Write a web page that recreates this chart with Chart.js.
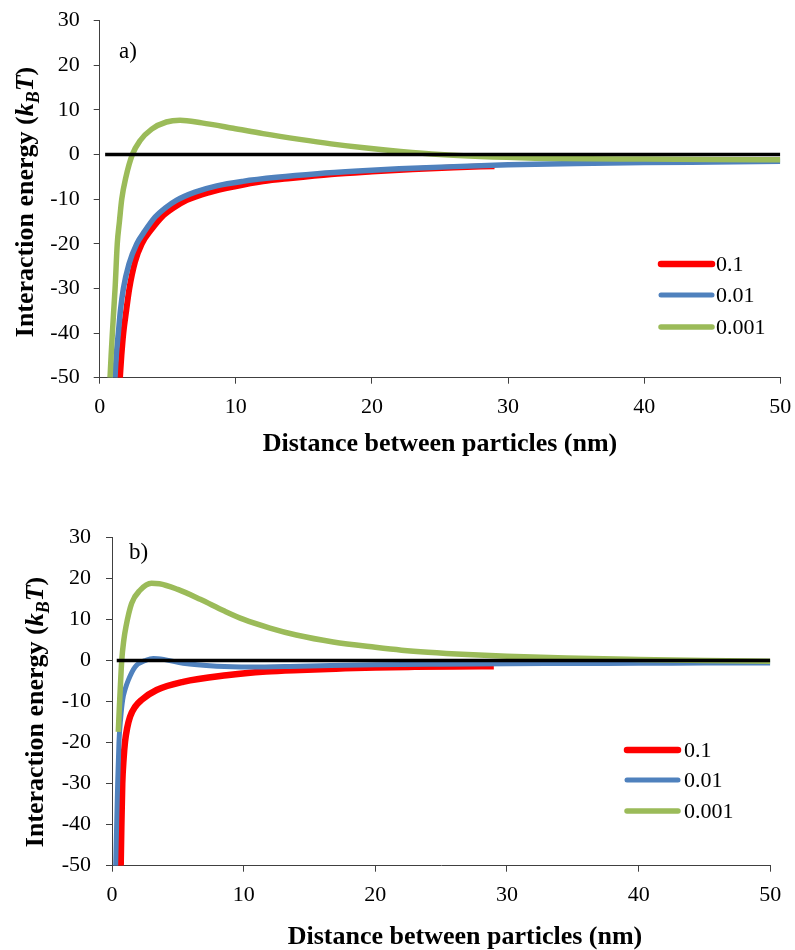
<!DOCTYPE html>
<html>
<head>
<meta charset="utf-8">
<script src="https://cdn.jsdelivr.net/npm/chart.js@4.4.1/dist/chart.umd.min.js"></script>
<style>
  html, body { margin: 0; padding: 0; background: #fff; }
  .panel { position: absolute; left: 0; width: 795px; }
  #panelA { top: 0; height: 470px; }
  #panelB { top: 470px; height: 480px; }
</style>
</head>
<body>
<div class="panel" id="panelA"><canvas id="chartA" width="795" height="470"></canvas></div>
<div class="panel" id="panelB"><canvas id="chartB" width="795" height="480"></canvas></div>
<script>
// --- DATA ---
const seriesLabels = ['0.1', '0.01', '0.001'];
const xTicks = [0, 10, 20, 30, 40, 50];
const yTicks = [-50, -40, -30, -20, -10, 0, 10, 20, 30];

// panel a)
const distA1 = [1.49, 1.6, 1.74, 1.95, 2.18, 2.6, 3.09, 3.8, 4.56, 5.4, 6.4, 8.0, 10, 12, 14, 17, 20, 23, 26, 29];
const energyA1 = [-50, -45, -40, -35, -30, -24, -20, -16.8, -14, -12, -10.2, -8.5, -7.1, -6.0, -5.3, -4.4, -3.8, -3.3, -2.9, -2.6];

const distA2 = [1.12, 1.22, 1.37, 1.52, 1.74, 2.15, 2.72, 3.3, 4.07, 4.8, 5.66, 7, 8.6, 10.5, 13, 16, 19, 22, 26, 30, 35, 40, 45, 50];
const energyA2 = [-50, -45, -40, -35, -30, -24.5, -20, -17.2, -14, -12, -10.2, -8.4, -7.0, -6.0, -5.1, -4.3, -3.7, -3.2, -2.7, -2.3, -2.0, -1.8, -1.65, -1.5];

const distA3 = [0.76, 0.84, 0.93, 1.03, 1.13, 1.29, 1.45, 1.62, 1.93, 2.4, 2.96, 3.82, 4.9, 5.9, 7.5, 9.8, 12, 14.7, 17, 19.6, 22.1, 25, 28, 32, 36, 40, 45, 50];
const energyA3 = [-50, -45, -40, -35, -30, -20, -15, -10, -5, 0, 3.1, 5.7, 7.3, 7.7, 7.1, 5.9, 4.7, 3.4, 2.4, 1.45, 0.7, 0.0, -0.45, -0.8, -0.95, -1.0, -1.1, -1.15];

const zeroDistA = [0.4, 50];

// panel b)
const distB1 = [0.66, 0.71, 0.78, 0.88, 0.99, 1.15, 1.37, 1.75, 2.25, 3.39, 5.4, 8.7, 11.7, 14.3, 17, 20, 23, 26, 29];
const energyB1 = [-50, -40.5, -30, -24, -19.8, -16.5, -13.7, -11.3, -9.6, -7.2, -5.2, -3.6, -2.7, -2.3, -2.0, -1.7, -1.55, -1.45, -1.4];

const distB2 = [0.28, 0.35, 0.43, 0.53, 0.66, 0.81, 1.0, 1.24, 1.75, 2.63, 3.14, 4.0, 5.4, 7.95, 10.5, 14.3, 20, 25, 30, 35, 40, 45, 50];
const energyB2 = [-50, -40.5, -30, -19.8, -14, -9.6, -7, -4.8, -1.6, 0.1, 0.5, 0.2, -0.7, -1.4, -1.6, -1.4, -1.05, -0.9, -0.8, -0.75, -0.7, -0.65, -0.6];

const distB3 = [0.48, 0.55, 0.61, 0.74, 0.9, 1.06, 1.49, 2.13, 3.0, 3.6, 5, 6.7, 8.5, 10, 12, 14, 16.8, 20, 22, 24, 27, 30, 34.5, 40, 45, 50];
const energyB3 = [-17.4, -12, -8.0, 0, 5, 8.2, 13.9, 17.1, 18.8, 18.7, 17.3, 14.9, 12.1, 10.0, 7.9, 6.2, 4.5, 3.2, 2.5, 2.0, 1.45, 1.05, 0.6, 0.25, 0.0, -0.2];

const zeroDistB = [0.36, 50];

const serif = "'Liberation Serif', 'Times New Roman', serif";
const xTitle = 'Distance between particles (nm)';

function toPoints(xs, ys) {
    return xs.map((x, i) => ({ x: x, y: ys[i] }));
}

// --- DRAWING HELPERS ---
// y title with italic k_B T
function drawYTitle(ctx, x, y, size) {
    const parts = [
        { t: 'Interaction energy (', f: `bold ${size}px ${serif}` },
        { t: 'k', f: `italic bold ${size}px ${serif}` },
        { t: 'B', f: `italic bold ${Math.round(size * 0.68)}px ${serif}`, dy: size * 0.24 },
        { t: 'T', f: `italic bold ${size}px ${serif}` },
        { t: ')', f: `bold ${size}px ${serif}` }
    ];
    ctx.save();
    ctx.translate(x, y);
    ctx.rotate(-Math.PI / 2);
    ctx.textAlign = 'left';
    ctx.textBaseline = 'alphabetic';
    let total = 0;
    parts.forEach(p => { ctx.font = p.f; p.w = ctx.measureText(p.t).width; total += p.w; });
    let cx = -total / 2;
    parts.forEach(p => { ctx.font = p.f; ctx.fillText(p.t, cx, p.dy || 0); cx += p.w; });
    ctx.restore();
}

const deco = {
    id: 'deco',
    afterDraw(chart, args, o) {
        const ctx = chart.ctx;
        ctx.save();
        ctx.fillStyle = '#000';

        // panel tag
        ctx.font = `23px ${serif}`;
        ctx.textAlign = 'left';
        ctx.textBaseline = 'alphabetic';
        ctx.fillText(o.tag, o.tagX, o.tagY);

        // axis titles
        ctx.font = `bold 26px ${serif}`;
        ctx.textAlign = 'center';
        ctx.fillText(xTitle, o.xTitleX, o.xTitleY);
        drawYTitle(ctx, o.yTitleX, o.yTitleY, 26);

        // legend (coloured series only)
        ctx.lineCap = 'round';
        ctx.textAlign = 'left';
        ctx.textBaseline = 'middle';
        ctx.font = `22px ${serif}`;
        o.legendRows.forEach((ly, i) => {
            const ds = chart.data.datasets[i];
            ctx.strokeStyle = ds.borderColor;
            ctx.lineWidth = o.legendWidths[i];
            ctx.beginPath();
            ctx.moveTo(o.legendX1, ly);
            ctx.lineTo(o.legendX2, ly);
            ctx.stroke();
            ctx.fillText(ds.label, o.legendTextX, ly + 1);
        });
        ctx.restore();
    }
};

function buildChart(id, sets, widths, layout, decoOpts) {
    const line = (label, xs, ys, color, w, order) => ({
        label: label,
        data: toPoints(xs, ys),
        borderColor: color,
        backgroundColor: color,
        borderWidth: w,
        pointRadius: 0,
        fill: false,
        cubicInterpolationMode: 'monotone',
        order: order
    });
    const datasets = [
        line(seriesLabels[0], sets[0][0], sets[0][1], '#FF0000', widths[0], 3),
        line(seriesLabels[1], sets[1][0], sets[1][1], '#4F81BD', widths[1], 2),
        line(seriesLabels[2], sets[2][0], sets[2][1], '#9BBB59', widths[2], 1),
        line('', sets[3], sets[3].map(() => 0), '#000000', 3.5, 0)
    ];
    const axisColor = '#404040';
    return new Chart(document.getElementById(id), {
        type: 'line',
        data: { datasets: datasets },
        options: {
            responsive: false,
            animation: false,
            events: [],
            layout: { padding: layout.padding },
            plugins: {
                legend: { display: false },
                tooltip: { enabled: false },
                deco: decoOpts
            },
            scales: {
                x: {
                    type: 'linear',
                    min: xTicks[0],
                    max: xTicks[xTicks.length - 1],
                    afterBuildTicks: s => { s.ticks = xTicks.map(v => ({ value: v })); },
                    afterFit: s => { s.height = 60; s.paddingLeft = 0; s.paddingRight = 0; },
                    border: { color: axisColor, width: 1 },
                    grid: { drawOnChartArea: false, drawTicks: true, tickLength: 6, color: axisColor },
                    ticks: { color: '#000', padding: 10, maxRotation: 0, font: { family: serif, size: 22 } }
                },
                y: {
                    type: 'linear',
                    min: yTicks[0],
                    max: yTicks[yTicks.length - 1],
                    afterBuildTicks: s => { s.ticks = yTicks.map(v => ({ value: v })); },
                    afterFit: s => { s.width = layout.yWidth; s.paddingTop = 0; s.paddingBottom = 0; },
                    border: { color: axisColor, width: 1 },
                    grid: { drawOnChartArea: false, drawTicks: true, tickLength: 6, color: axisColor },
                    ticks: { color: '#000', padding: layout.yPad, font: { family: serif, size: 22 } }
                }
            }
        },
        plugins: [deco]
    });
}

buildChart('chartA',
    [[distA1, energyA1], [distA2, energyA2], [distA3, energyA3], zeroDistA],
    [6, 5.5, 5.5],
    { padding: { left: 0, top: 20.7, right: 14.7, bottom: 32.3 }, yWidth: 99.7, yPad: 14 },
    { tag: 'a)', tagX: 119, tagY: 58, xTitleX: 440, xTitleY: 451, yTitleX: 33, yTitleY: 202,
      legendX1: 661, legendX2: 712, legendTextX: 716, legendRows: [264, 295, 327], legendWidths: [6.5, 5, 5.5] }
);

buildChart('chartB',
    [[distB1, energyB1], [distB2, energyB2], [distB3, energyB3], zeroDistB],
    [6.5, 5, 5.5],
    { padding: { left: 0, top: 67.3, right: 24.7, bottom: 24.3 }, yWidth: 112, yPad: 15 },
    { tag: 'b)', tagX: 129, tagY: 89, xTitleX: 465, xTitleY: 474, yTitleX: 43, yTitleY: 242,
      legendX1: 627, legendX2: 678, legendTextX: 684, legendRows: [280, 310, 341], legendWidths: [6.5, 5, 5.5] }
);
</script>
</body>
</html>
